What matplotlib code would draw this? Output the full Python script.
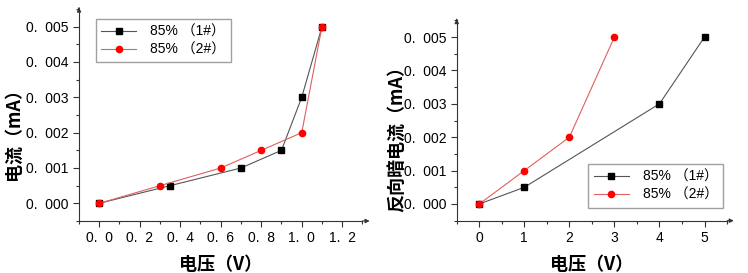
import matplotlib.pyplot as plt
from matplotlib.ticker import MultipleLocator

plt.rcParams['font.family'] = ['Liberation Sans', 'Noto Sans CJK SC']

# 左图 正向
v1_a = [0, 0.35, 0.7, 0.9, 1.0, 1.1]
i1_a = [0, 0.0005, 0.001, 0.0015, 0.003, 0.005]
v2_a = [0, 0.3, 0.6, 0.8, 1.0, 1.1]
i2_a = [0, 0.0005, 0.001, 0.0015, 0.002, 0.005]

# 右图 反向暗电流
v1_b = [0, 1, 4, 5]
i1_b = [0, 0.0005, 0.003, 0.005]
v2_b = [0, 1, 2, 3]
i2_b = [0, 0.001, 0.002, 0.005]

labels = ['85% （1#）', '85% （2#）']
yticks = [0, 0.001, 0.002, 0.003, 0.004, 0.005]
ytick_labels = ['0.  000', '0.  001', '0.  002', '0.  003', '0.  004', '0.  005']
xticks_a = [0, 0.2, 0.4, 0.6, 0.8, 1.0, 1.2]
xtick_labels_a = ['0.  0', '0.  2', '0.  4', '0.  6', '0.  8', '1.  0', '1.  2']
xticks_b = [0, 1, 2, 3, 4, 5]

fig = plt.figure(figsize=(7.48, 2.73), dpi=100)
ax1 = fig.add_axes([0.1056, 0.1905, 0.379, 0.7766])
ax2 = fig.add_axes([0.6106, 0.1916, 0.3614, 0.734])

cjk = ['Noto Sans CJK SC', 'DejaVu Sans']

def style(ax):
    for s in ['top', 'right']:
        ax.spines[s].set_visible(False)
    for s in ['left', 'bottom']:
        ax.spines[s].set_color('#333333')
        ax.spines[s].set_linewidth(0.8)
    ax.tick_params(which='major', direction='out', length=4, width=0.8, color='#333333', labelsize=10)
    ax.tick_params(which='minor', direction='out', length=2, width=0.8, color='#333333')
    ax.set_yticks(yticks)
    ax.set_yticklabels(ytick_labels)
    ax.yaxis.set_minor_locator(MultipleLocator(0.0005))
    ax.set_ylim(-0.0005, 0.0055)
    # 箭头
    ax.annotate('', xy=(1.035, 0), xytext=(0.99, 0), xycoords='axes fraction',
                arrowprops=dict(arrowstyle='-|>', color='#333333', lw=0.8, mutation_scale=6))
    ax.annotate('', xy=(0, 1.02), xytext=(0, 0.99), xycoords='axes fraction',
                arrowprops=dict(arrowstyle='-|>', color='#333333', lw=0.8, mutation_scale=6))
    ax.set_xlabel('电压（V）', family=cjk, fontweight='bold', fontsize=13, labelpad=7)

ax1.plot(v1_a, i1_a, color='#555555', lw=0.8, marker='s', ms=4, mfc='black', mec='black', label=labels[0])
ax1.plot(v2_a, i2_a, color='#e06060', lw=0.8, marker='o', ms=4.5, mfc='red', mec='red', label=labels[1])
style(ax1)
ax1.set_xlim(-0.1, 1.3)
ax1.set_xticks(xticks_a)
ax1.set_xticklabels(xtick_labels_a)
ax1.xaxis.set_minor_locator(MultipleLocator(0.1))
ax1.set_ylabel('电流（mA）', family=cjk, fontweight='bold', fontsize=13)
ax1.yaxis.set_label_coords(-0.197, 0.43)
ax1.legend(loc='upper left', bbox_to_anchor=(0.059, 0.953), fontsize=10, frameon=True,
           fancybox=False, edgecolor='#888888', handlelength=2.5, borderpad=0.4,
           labelspacing=0.3, borderaxespad=0, handletextpad=1.0)

ax2.plot(v1_b, i1_b, color='#555555', lw=0.8, marker='s', ms=4, mfc='black', mec='black', label=labels[0])
ax2.plot(v2_b, i2_b, color='#e06060', lw=0.8, marker='o', ms=4.5, mfc='red', mec='red', label=labels[1])
style(ax2)
ax2.set_xlim(-0.5, 5.5)
ax2.set_xticks(xticks_b)
ax2.xaxis.set_minor_locator(MultipleLocator(0.5))
ax2.set_ylabel('反向暗电流（mA）', family=cjk, fontweight='bold', fontsize=13)
ax2.yaxis.set_label_coords(-0.184, 0.43)
ax2.legend(loc='lower right', bbox_to_anchor=(0.986, 0.065), fontsize=10, frameon=True,
           fancybox=False, edgecolor='#888888', handlelength=2.5, borderpad=0.4,
           labelspacing=0.3, borderaxespad=0, handletextpad=1.0)

fig.savefig('out.png', dpi=100)
